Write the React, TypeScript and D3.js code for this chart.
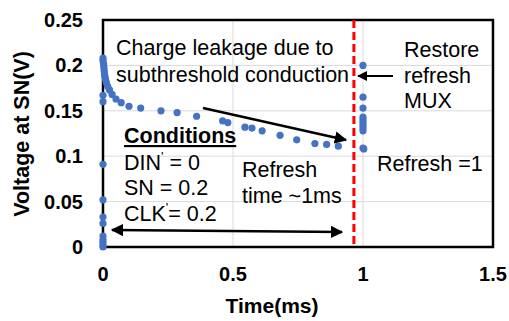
import React from 'react';
import * as d3 from 'd3';

// leakage curve after the write (time ms, voltage V)
const leakT = [0, 0, 0.002, 0.003, 0.004, 0.005, 0.006, 0.008, 0.01, 0.013, 0.018, 0.025, 0.035, 0.05, 0.07, 0.1, 0.145, 0.223, 0.285, 0.36, 0.46, 0.48, 0.546, 0.573, 0.612, 0.681, 0.745, 0.815, 0.86, 0.905];
const leakV = [0.208, 0.205, 0.202, 0.199, 0.196, 0.193, 0.19, 0.187, 0.184, 0.181, 0.177, 0.173, 0.168, 0.163, 0.159, 0.155, 0.153, 0.15, 0.148, 0.144, 0.139, 0.137, 0.132, 0.131, 0.128, 0.123, 0.118, 0.114, 0.113, 0.111];
// charging at t = 0
const chargeV = [0, 0.002, 0.005, 0.008, 0.012, 0.026, 0.033, 0.052, 0.091, 0.16, 0.167];
// refresh at t = 1
const refreshT = [1, 1, 1, 1, 1, 1, 1, 1, 1, 1, 1.003];
const refreshV = [0.2, 0.165, 0.153, 0.143, 0.14, 0.137, 0.134, 0.131, 0.128, 0.109, 0.108];

const xTicks = [0, 0.5, 1, 1.5];
const yTicks = [0, 0.05, 0.1, 0.15, 0.2, 0.25];
const refreshLine = 0.965;

const W = 509;
const H = 321;
const font = 'Liberation Sans, Arial, sans-serif';
const fs = 21.5;

export default function App() {
  const x = d3.scaleLinear().domain([0, 1.5]).range([103, 493]);
  const y = d3.scaleLinear().domain([0, 0.25]).range([247, 20]);

  const points = [
    ...leakT.map((t, i) => [t, leakV[i]]),
    ...chargeV.map(v => [0, v]),
    ...refreshT.map((t, i) => [t, refreshV[i]]),
  ];

  const fmt = (d: number) => String(d);

  return (
    <div style={{ position: 'absolute', left: 0, top: 0 }}>
      <svg width={W} height={H} style={{ display: 'block', background: '#fff' }} fontFamily={font}>
        <defs>
          <marker id="ah" viewBox="0 0 10 10" refX="9" refY="5" markerWidth="5" markerHeight="5" orient="auto-start-reverse">
            <path d="M0,0 L10,5 L0,10 z" fill="#000" />
          </marker>
        </defs>

        {/* grid */}
        {yTicks.slice(1).map(t => (
          <line key={'gy' + t} x1={x(0)} x2={x(1.5)} y1={y(t)} y2={y(t)} stroke="#d9d9d9" strokeWidth={1} />
        ))}
        {xTicks.slice(1).map(t => (
          <line key={'gx' + t} x1={x(t)} x2={x(t)} y1={y(0)} y2={y(0.25)} stroke="#d9d9d9" strokeWidth={1} />
        ))}

        {/* plot border */}
        <rect x={x(0)} y={y(0.25)} width={x(1.5) - x(0)} height={y(0) - y(0.25)} fill="none" stroke="#000" strokeWidth={2.5} />

        {/* tick labels */}
        {yTicks.map(t => (
          <text key={'ty' + t} x={83} y={y(t)} dy="0.35em" textAnchor="end" fontSize={20} fontWeight="bold">{fmt(t)}</text>
        ))}
        {xTicks.map(t => (
          <text key={'tx' + t} x={x(t)} y={281} textAnchor="middle" fontSize={20} fontWeight="bold">{fmt(t)}</text>
        ))}
        <text x={272} y={313} textAnchor="middle" fontSize={21} fontWeight="bold">Time(ms)</text>
        <text transform="translate(29,134) rotate(-90)" textAnchor="middle" fontSize={21.5} fontWeight="bold">Voltage at SN(V)</text>

        {/* refresh marker */}
        <line x1={x(refreshLine)} x2={x(refreshLine)} y1={y(0.25)} y2={y(0)} stroke="#ff0000" strokeWidth={3} strokeDasharray="8,4" />

        {/* data */}
        {points.map(([t, v], i) => (
          <circle key={i} cx={x(t)} cy={y(v)} r={3.6} fill="#4472c4" />
        ))}

        {/* arrows */}
        <line x1={203} y1={108} x2={346} y2={140} stroke="#000" strokeWidth={2.5} markerEnd="url(#ah)" />
        <line x1={393} y1={76} x2={358} y2={76} stroke="#000" strokeWidth={2} markerEnd="url(#ah)" />
        <line x1={112} y1={230} x2={342} y2={232} stroke="#000" strokeWidth={2.5} markerStart="url(#ah)" markerEnd="url(#ah)" />

        {/* annotations */}
        <text x={116} y={55} fontSize={fs}>Charge leakage due to</text>
        <text x={116} y={82} fontSize={fs}>subthreshold conduction</text>
        <text x={404} y={57} fontSize={fs}>Restore</text>
        <text x={404} y={83} fontSize={fs}>refresh</text>
        <text x={404} y={108} fontSize={fs}>MUX</text>
        <text x={124} y={143} fontSize={fs} fontWeight="bold" textDecoration="underline">Conditions</text>
        <text x={124} y={170} fontSize={fs}>DIN<tspan fontSize={13} dy={-9}>'</tspan><tspan dy={9}> = 0</tspan></text>
        <text x={124} y={195} fontSize={fs}>SN = 0.2</text>
        <text x={124} y={221} fontSize={fs}>CLK<tspan fontSize={13} dy={-9}>'</tspan><tspan dy={9}>= 0.2</tspan></text>
        <text x={242} y={177} fontSize={fs}>Refresh</text>
        <text x={242} y={203} fontSize={fs}>time ~1ms</text>
        <text x={377} y={171} fontSize={fs}>Refresh =1</text>
      </svg>
    </div>
  );
}
